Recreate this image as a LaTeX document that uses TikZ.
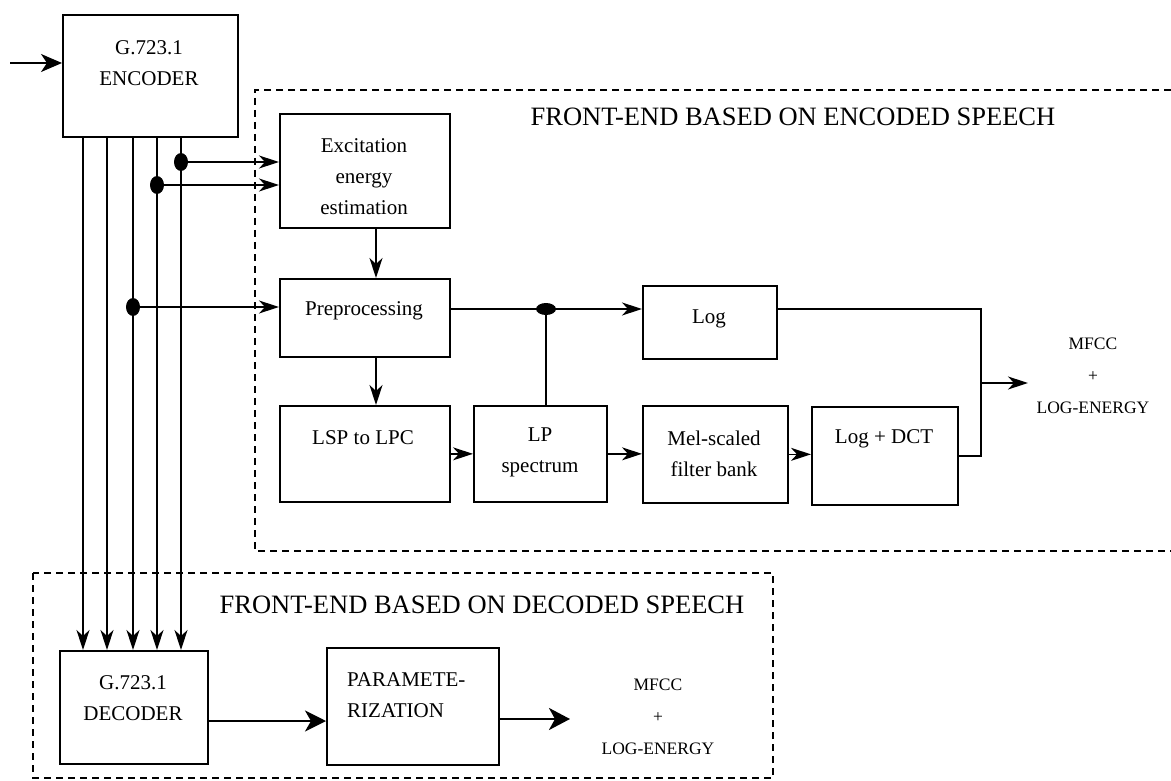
\documentclass[tikz,border=0pt]{standalone}
\usepackage{fontspec}
\setmainfont{Liberation Serif}
\usetikzlibrary{arrows.meta}
\begin{document}
\begin{tikzpicture}[x=1pt,y=-1pt,
  blk/.style={draw,line width=1.7pt,inner sep=0pt,anchor=north west},
  txt/.style={font=\fontsize{21}{31}\selectfont,align=center,inner sep=0pt},
  outtxt/.style={font=\fontsize{17.5}{32}\selectfont,align=center,inner sep=0pt},
  ttl/.style={font=\fontsize{26.5}{30}\selectfont,inner sep=0pt},
  conn/.style={line width=1.4pt},
  arr/.style={line width=1.4pt,-{Stealth[length=20pt,width=13pt,inset=6pt]}},
  arrin/.style={line width=1.8pt,-{Stealth[length=21pt,width=18pt,inset=6pt]}},
  arrthick/.style={line width=2.2pt,-{Stealth[length=21pt,width=21pt,inset=6pt]}},
  arrbig/.style={line width=2.8pt,-{Stealth[length=21pt,width=22pt,inset=6pt]}},
  dashbox/.style={line width=1.4pt,dash pattern=on 7pt off 5pt},
  dot/.style={fill=black}
]
\useasboundingbox (0,0) rectangle (1171,781);

% dashed frames
\draw[dashbox] (1171,90) -- (255,90) -- (255,551) -- (1171,551);
\draw[dashbox] (33,573) rectangle (773,778);

% titles
\node[ttl] (t1) at (793,117) {FRONT-END BASED ON ENCODED SPEECH};
\node[ttl] (t2) at (482,605) {FRONT-END BASED ON DECODED SPEECH};

% boxes
\node[blk,minimum width=175pt,minimum height=122pt] (enc) at (62,14) {};
\node[blk,minimum width=170pt,minimum height=114pt] (exc) at (279,113) {};
\node[blk,minimum width=170pt,minimum height=78pt] (pre) at (279,278) {};
\node[blk,minimum width=170pt,minimum height=96pt] (lsp) at (279,405) {};
\node[blk,minimum width=133pt,minimum height=96pt] (lp) at (473,405) {};
\node[blk,minimum width=134pt,minimum height=73pt] (log) at (642,285) {};
\node[blk,minimum width=145pt,minimum height=97pt] (mel) at (642,405) {};
\node[blk,minimum width=146pt,minimum height=98pt] (ldct) at (811,406) {};
\node[blk,minimum width=148pt,minimum height=113pt] (dec) at (59,650) {};
\node[blk,minimum width=172pt,minimum height=117pt] (par) at (326,647) {};

% box texts
\node[txt] (encT) at (149,63) {G.723.1\\ENCODER};
\node[txt] (excT) at (364,177) {Excitation\\energy\\estimation};
\node[txt] (preT) at (364,311) {Preprocessing};
\node[txt] (lspT) at (363,438) {LSP to LPC};
\node[txt] (lpT) at (540,452) {LP\\spectrum};
\node[txt] (logT) at (709,319) {Log};
\node[txt] (melT) at (714,454) {Mel-scaled\\filter bank};
\node[txt] (ldctT) at (884,439) {Log + DCT};
\node[txt] (decT) at (133,698) {G.723.1\\DECODER};
\node[txt,align=left,anchor=west] (parT) at (347,695) {PARAMETE-\\RIZATION};

% outputs
\node[outtxt] (mf1) at (1093,376) {MFCC\\+\\LOG-ENERGY};
\node[outtxt] (mf2) at (658,717) {MFCC\\+\\LOG-ENERGY};

% input
\coordinate (in) at (10,63);
\draw[arrin] (in) -- (in -| enc.west);

% vertical bus lines
\foreach \xx/\nm in {83/v1,107/v2,133/v3,157/v4,181/v5}{
  \coordinate (\nm) at (\xx,0);
  \draw[arr] (\nm |- enc.south) -- (\nm |- dec.north);
}

% taps
\coordinate (d1) at (181,162);
\coordinate (d2) at (157,185);
\coordinate (d3) at (133,307);
\draw[arr] (d1) -- (d1 -| exc.west);
\draw[arr] (d2) -- (d2 -| exc.west);
\draw[arr] (d3) -- (d3 -| pre.west);
\fill[dot] (d1) ellipse [x radius=7, y radius=9];
\fill[dot] (d2) ellipse [x radius=7, y radius=9];
\fill[dot] (d3) ellipse [x radius=7, y radius=9];

% vertical flow
\coordinate (ax) at (376,0);
\draw[arr] (ax |- exc.south) -- (ax |- pre.north);
\draw[arr] (ax |- pre.south) -- (ax |- lsp.north);

% preprocessing -> log, junction to LP spectrum
\coordinate (j) at (546,309);
\draw[arr] (j -| pre.east) -- (j -| log.west);
\draw[conn] (j) -- (j |- lp.north);
\fill[dot] (j) ellipse [x radius=10, y radius=6];

% lower chain
\draw[arr] (lsp.east) -- (lsp.east -| lp.west);
\draw[arr] (lp.east) -- (lp.east -| mel.west);
\draw[arr] (mel.east) -- (mel.east -| ldct.west);

% combine outputs
\coordinate (m) at (981,383);
\coordinate (o1) at (1028,383);
\draw[conn] (ldct.east) -| (m) |- (j -| log.east);
\draw[arr] (m) -- (o1);

% decoded path
\coordinate (r) at (0,721);
\draw[arrthick] (r -| dec.east) -- (r -| par.west);
\coordinate (o2) at (570,719);
\draw[arrbig] (o2 -| par.east) -- (o2);
\end{tikzpicture}
\end{document}
